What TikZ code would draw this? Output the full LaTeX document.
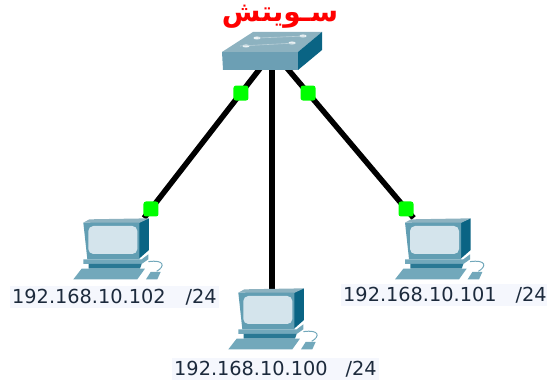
\documentclass[tikz,border=0pt]{standalone}
\usepackage{fontspec}
\setmainfont{DejaVu Sans}
\newfontfamily\arabicfont[Script=Arabic]{DejaVu Sans}
\TeXXeTstate=1
\usepackage{tikz}
\usetikzlibrary{positioning, calc}
\definecolor{swfront}{HTML}{6C9FB4}
\definecolor{swtop}{HTML}{8DB2C0}
\definecolor{swside}{HTML}{0A6484}
\definecolor{pcframe}{HTML}{72A8BB}
\definecolor{pcscreen}{HTML}{D4E4EC}
\definecolor{labelbg}{HTML}{F5F7FD}
\definecolor{labeltext}{HTML}{1C2A3C}
\tikzset{
    link/.style={line width=5.5pt, black},
    port/.style={fill=green, rounded corners=2.5pt, minimum size=15pt, inner sep=0pt},
    iplabel/.style={fill=labelbg, text=labeltext, font=\fontsize{19.3}{22}\selectfont, inner xsep=2pt, inner ysep=3pt, anchor=west},
    pcicon/.pic={
        \begin{scope}[x=0.3333pt, y=-0.3333pt, line join=round]
            % monitor
            \fill[swside] (415,68) -- (447,55) -- (447,150) -- (415,178) -- cycle;
            \fill[swtop] (250,68) -- (268,58) -- (447,55) -- (415,70) -- cycle;
            \fill[pcframe!85!swside] (250,68) -- (418,68) -- (418,178) -- (262,178) -- cycle;
            \fill[pcscreen, rounded corners=5pt] (265,78) rectangle (412,162);
            % stand
            \fill[pcframe] (250,178) -- (425,178) -- (445,163) -- (445,178) -- (425,192) -- (250,192) -- cycle;
            \fill[swside!70!pcframe] (266,192) -- (425,192) -- (420,206) -- (266,206) -- cycle;
            % keyboard and mouse
            \fill[pcframe] (220,238) -- (245,206) -- (435,206) -- (412,238) -- cycle;
            \fill[pcframe] (438,238) -- (452,216) -- (482,216) -- (472,238) -- cycle;
            \draw[pcframe, line width=1pt] (445,185) .. controls (495,178) and (495,200) .. (470,214);
        \end{scope}
    }
}
\begin{document}
\begin{tikzpicture}[x=1pt, y=-1pt]
    \useasboundingbox (0,0) rectangle (547,385);
    \coordinate (swL) at (260.4,68);
    \coordinate (swM) at (272,68);
    \coordinate (swR) at (286.9,68);
    \coordinate (pcL) at (144,218);
    \coordinate (pcM) at (272,292);
    \coordinate (pcR) at (413.6,218);
    % links
    \draw[link] (swL) -- node[port, pos=0.167] (portLa) {} node[port, pos=0.94] (portLb) {} (pcL);
    \draw[link] (swM) -- (pcM);
    \draw[link] (swR) -- node[port, pos=0.167] (portRa) {} node[port, pos=0.94] (portRb) {} (pcR);
    % switch
    \fill[swfront] (222,52) -- (298,52) -- (298,70) -- (223,70) -- cycle;
    \fill[swtop] (222,52) -- (253,32) -- (322,32) -- (298,52) -- cycle;
    \fill[swside] (298,52) -- (322,32) -- (322,50) -- (298,70) -- cycle;
    \foreach \px/\py in {257/38, 303/36, 246/46, 292/43}
        \fill[white!85!swtop] (\px,\py) ellipse (3.5pt and 1.5pt);
    \draw[white!40!swtop, line width=0.6pt] (240,46) -- (296,43) (258,38) -- (305,36);
    \node[text=red, font=\arabicfont\bfseries\fontsize{28}{30}\selectfont, inner sep=0pt] (swname) at (280,17) {\beginR سـويتش\endR};
    % computers
    \pic at (0,200) {pcicon};
    \pic at (155,270) {pcicon};
    \pic at (321.7,200) {pcicon};
    \node[iplabel] (ipL) at (10,297) {192.168.10.102\hspace{20pt}/24};
    \node[iplabel] (ipM) at (172,369) {192.168.10.100\hspace{18pt}/24};
    \node[iplabel] (ipR) at (341,295) {192.168.10.101\hspace{19pt}/24};
\end{tikzpicture}
\end{document}
